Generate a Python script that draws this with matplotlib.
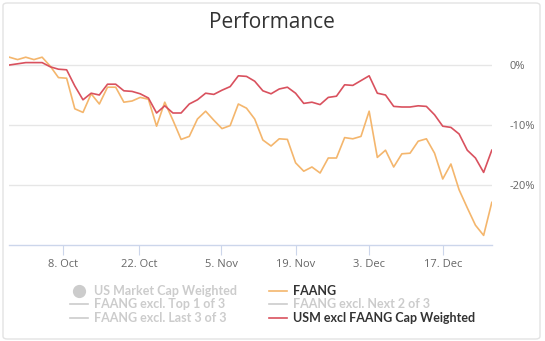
import numpy as np
import matplotlib
matplotlib.use("Agg")
import matplotlib.pyplot as plt
from matplotlib.lines import Line2D
from matplotlib.patches import FancyBboxPatch
from matplotlib.ticker import FuncFormatter

# daily performance in %, one value per trading day (27 Sep - 24 Dec)
faang = [1.3, 0.9, 1.3, 0.9, 1.3, -0.2, -2.1, -2.2, -7.3, -7.9,
         -4.8, -6.5, -3.7, -3.7, -6.2, -6.0, -5.4, -5.7, -10.2, -6.2,
         -9.2, -12.4, -11.9, -9.0, -7.7, -9.2, -10.6, -10.1, -6.5, -7.2,
         -9.0, -12.5, -13.5, -12.3, -12.4, -16.3, -17.7, -17.0, -18.0, -15.5,
         -15.5, -12.1, -12.3, -11.9, -7.7, -15.4, -14.2, -17.0, -14.8, -14.7,
         -12.7, -12.3, -14.7, -19.0, -16.5, -20.8, -23.8, -26.7, -28.4, -22.9]
usm_ex_faang = [0.0, 0.2, 0.4, 0.4, 0.4, -0.3, -0.7, -0.8, -3.5, -5.8,
                -4.7, -5.0, -3.2, -3.2, -4.3, -4.4, -4.8, -5.5, -8.0, -6.8,
                -8.0, -8.0, -6.5, -5.8, -4.7, -4.9, -4.2, -3.6, -1.8, -1.9,
                -2.7, -4.3, -4.8, -4.0, -3.7, -4.7, -6.4, -6.2, -6.6, -5.4,
                -5.2, -3.3, -3.4, -2.6, -1.8, -4.7, -5.0, -6.9, -7.0, -7.0,
                -6.8, -6.9, -8.3, -10.2, -10.4, -11.5, -14.2, -15.5, -17.9, -14.2]

tick_pos = [6.6, 15.9, 25.9, 35.0, 44.0, 53.0]
tick_labels = ["8. Oct", "22. Oct", "5. Nov", "19. Nov", "3. Dec", "17. Dec"]

c_faang = "#f4b66d"
c_usm = "#d9515e"
c_hidden = "#cccccc"

W, H = 545, 341
fig = plt.figure(figsize=(W / 100, H / 100), dpi=100)

# light frame around the chart
fig.patches.append(FancyBboxPatch((3 / W, 2 / H), 537 / W, 336 / H,
                                  boxstyle="round,pad=0,rounding_size=0.008",
                                  transform=fig.transFigure, fill=False,
                                  edgecolor="#e3e3e3", linewidth=1))

ax = fig.add_axes([9.4 / W, 1 - 245 / H, (491.8 - 9.4) / W, (245 - 44) / H])
x = np.arange(len(faang))
ax.plot(x, faang, color=c_faang, lw=1.2)
ax.plot(x, usm_ex_faang, color=c_usm, lw=1.2)

ax.set_xlim(0, len(faang) - 1)
ax.set_ylim(-30, 3.5)

for s in ["top", "left", "right"]:
    ax.spines[s].set_visible(False)
ax.spines["bottom"].set_color("#ccd6eb")
ax.spines["bottom"].set_linewidth(1)

ax.set_yticks([-20, -10, 0])
ax.yaxis.set_major_formatter(FuncFormatter(lambda v, p: f"{v:.0f}%"))
ax.yaxis.tick_right()
ax.tick_params(axis="y", length=0, pad=13, labelsize=8, labelcolor="#666666")
ax.grid(axis="y", color="#e6e6e6", lw=1)
ax.set_axisbelow(True)

ax.set_xticks(tick_pos)
ax.set_xticklabels(tick_labels)
ax.tick_params(axis="x", length=7, color="#ccd6eb", pad=3, labelsize=8,
               labelcolor="#666666")

for lab in ax.get_xticklabels() + ax.get_yticklabels():
    lab.set_fontfamily("Open Sans")

fig.text(272 / W, 1 - 23 / H, "Performance", ha="center", va="center",
         fontsize=15, color="#333333", family="Open Sans")

# legend, filled column by column
handles = [
    Line2D([], [], marker="o", ls="none", color=c_hidden, markersize=8.5),
    Line2D([], [], color=c_hidden, lw=1.2),
    Line2D([], [], color=c_hidden, lw=1.2),
    Line2D([], [], color=c_faang, lw=1.2),
    Line2D([], [], color=c_hidden, lw=1.2),
    Line2D([], [], color=c_usm, lw=1.2),
]
names = ["US Market Cap Weighted", "FAANG excl. Top 1 of 3", "FAANG excl. Last 3 of 3",
         "FAANG", "FAANG excl. Next 2 of 3", "USM excl FAANG Cap Weighted"]
text_colors = [c_hidden, c_hidden, c_hidden, "#333333", c_hidden, "#333333"]
leg = fig.legend(handles, names, ncol=2, loc="upper left",
                 bbox_to_anchor=(70 / W, 1 - 285 / H), frameon=False,
                 prop={"family": "Lato", "weight": "bold", "size": 9},
                 handlelength=1.4, handletextpad=0.5, columnspacing=2.6,
                 labelspacing=0.12, borderpad=0, borderaxespad=0)
for t, c in zip(leg.get_texts(), text_colors):
    t.set_color(c)

fig.savefig("out.png", dpi=100)
